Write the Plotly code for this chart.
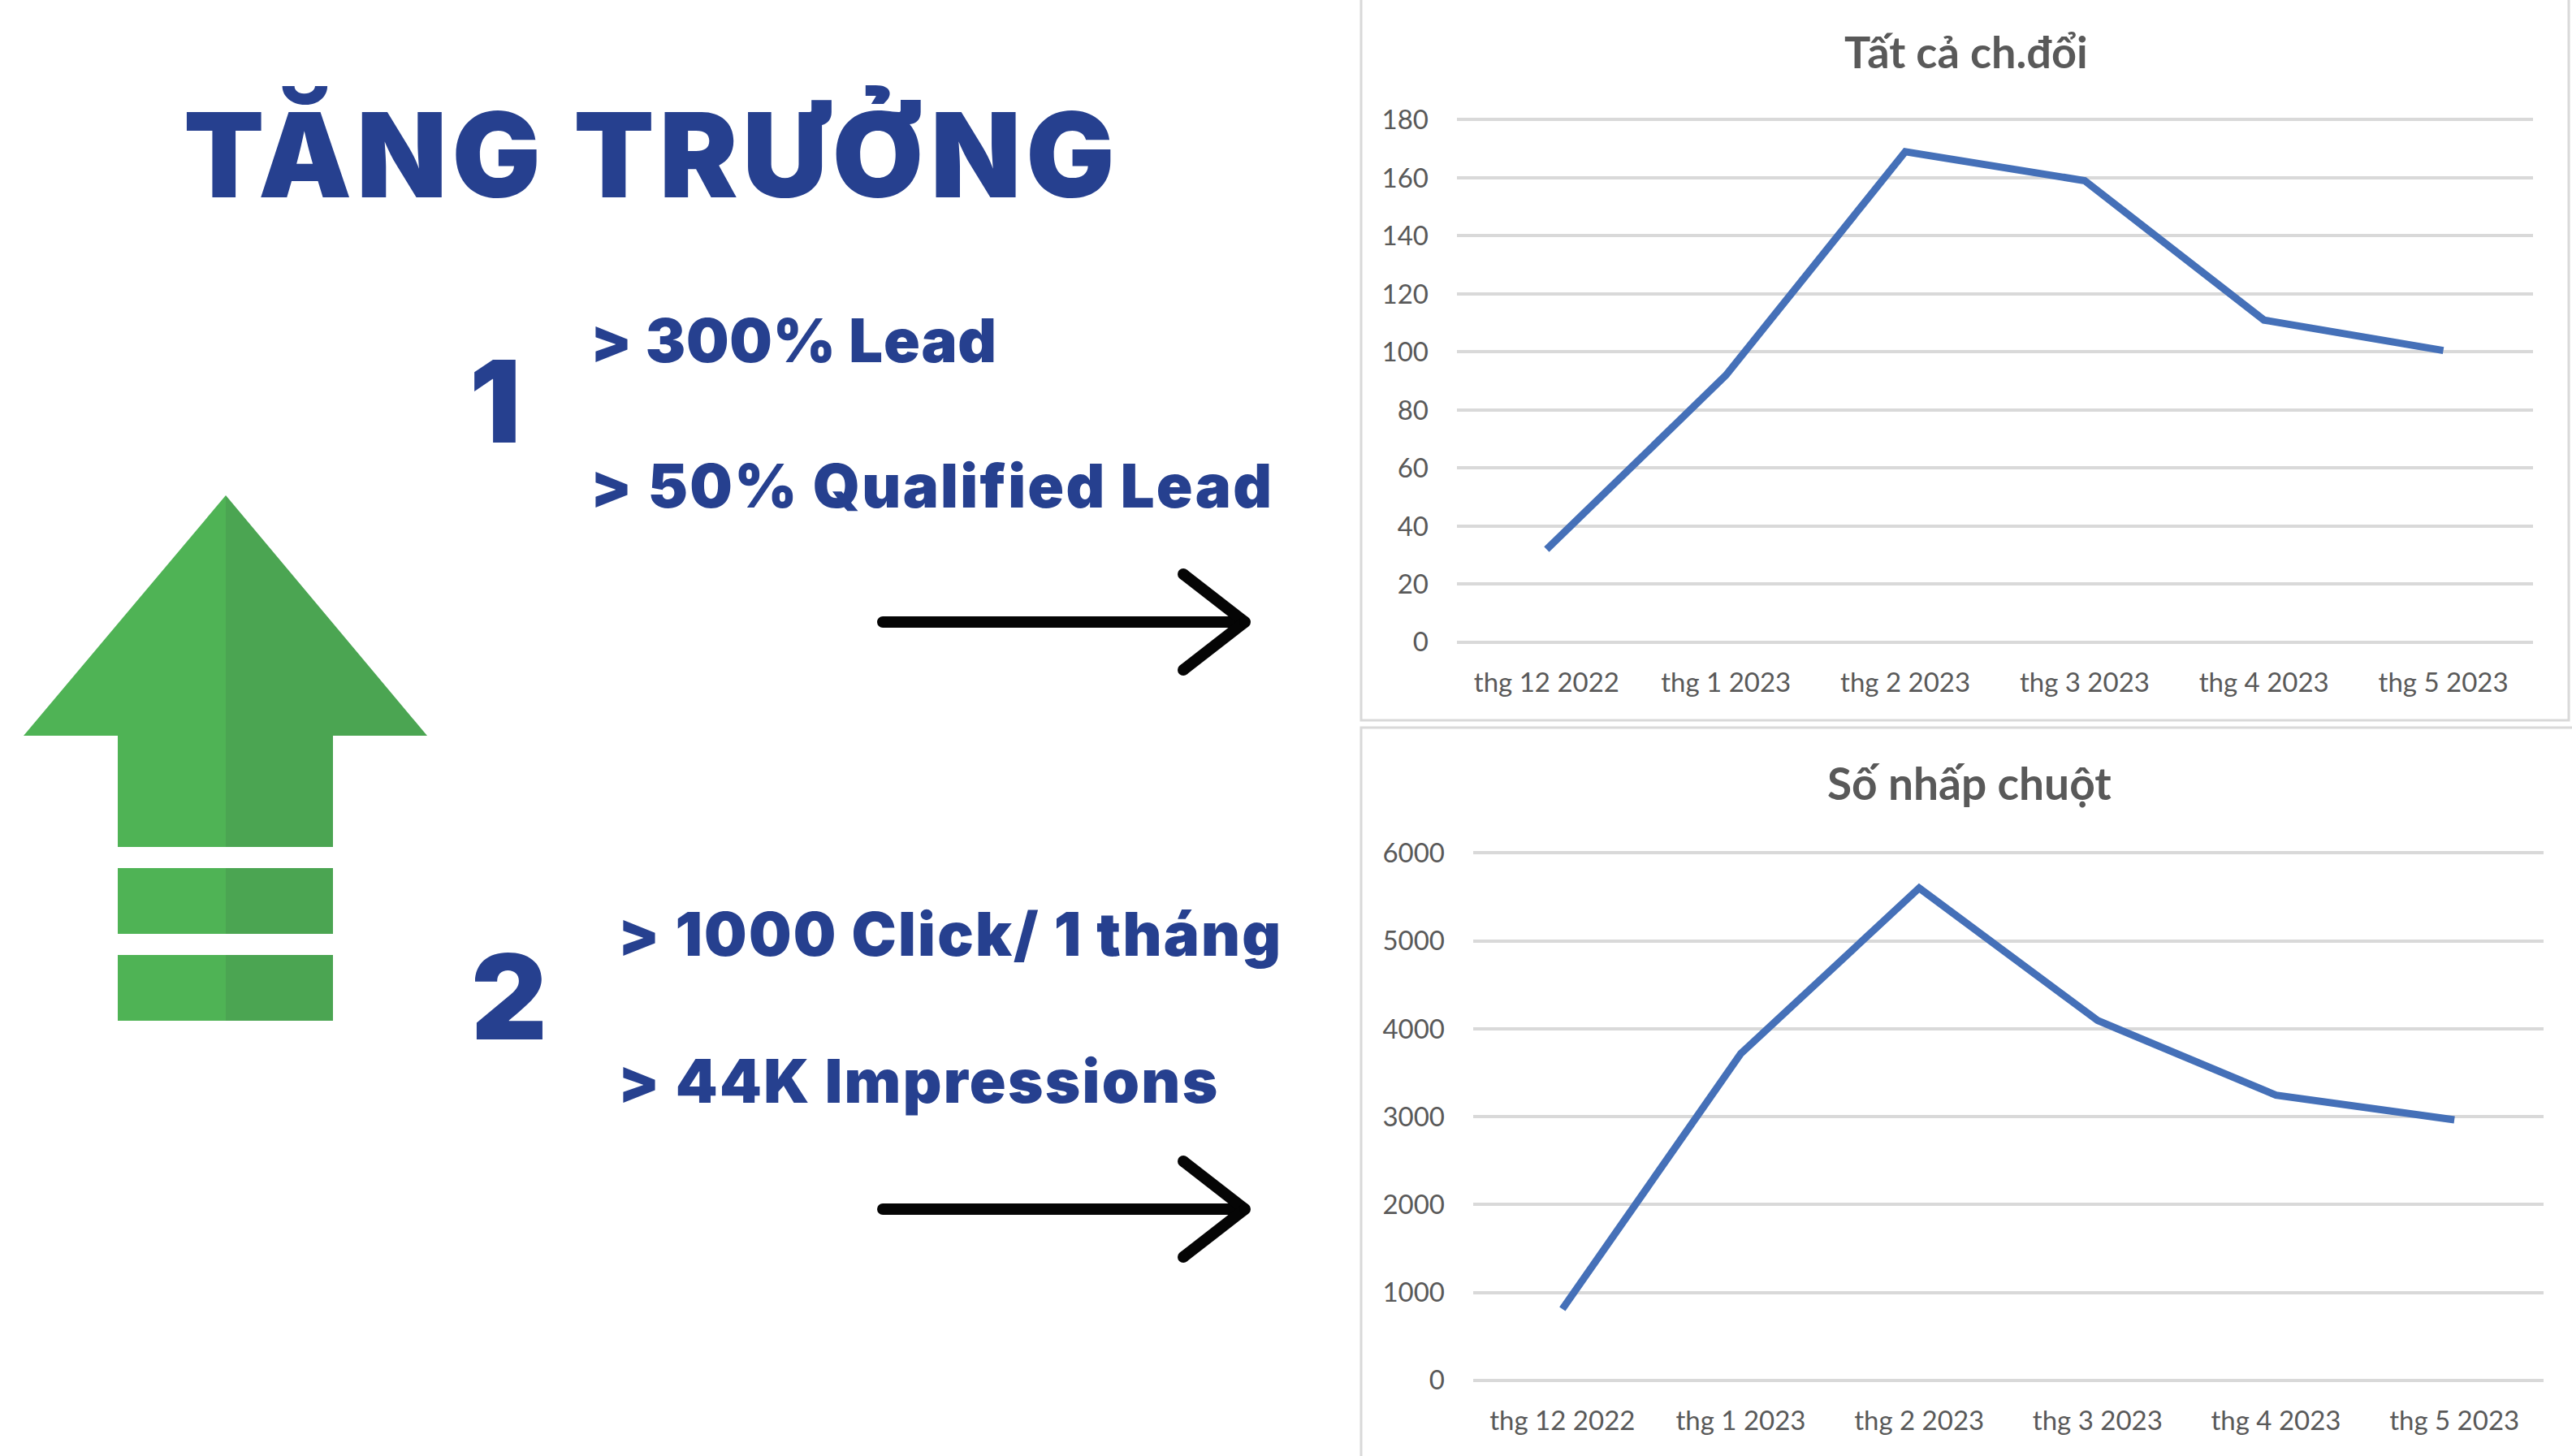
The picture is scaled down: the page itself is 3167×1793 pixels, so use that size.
import plotly.graph_objects as go

W = 3167
H = 1793

months = ["thg 12 2022", "thg 1 2023", "thg 2 2023", "thg 3 2023", "thg 4 2023", "thg 5 2023"]
conversions = [32, 92, 169, 159, 111, 100.5]
clicks = [812, 3718, 5602, 4095, 3245, 2965]
conversion_ticks = [0, 20, 40, 60, 80, 100, 120, 140, 160, 180]
click_ticks = [0, 1000, 2000, 3000, 4000, 5000, 6000]

BLUE = "#26408F"
GRID = "#D9D9D9"
GREY = "#595959"
LINE = "#4570B8"
GREEN_L = "#4FB355"
GREEN_R = "#4BA552"
HEAD_FONT = "Inter"
CHART_FONT = "Lato"


def px(x):
    return x / W


def py(y):
    return 1 - y / H


fig = go.Figure()
fig.add_trace(go.Scatter(x=months, y=conversions, mode="lines", xaxis="x", yaxis="y",
                         line=dict(color=LINE, width=9), showlegend=False))
fig.add_trace(go.Scatter(x=months, y=clicks, mode="lines", xaxis="x2", yaxis="y2",
                         line=dict(color=LINE, width=9), showlegend=False))

tick_font = dict(family=CHART_FONT, size=33, color=GREY)
x_common = dict(type="category", range=[-0.5, 5.5], showgrid=False, showline=False, zeroline=False,
                ticks="", tickfont=tick_font, ticklabelstandoff=26, automargin=False)
y_common = dict(showgrid=True, gridcolor=GRID, gridwidth=3.5, showline=False, zeroline=False,
                ticks="", tickfont=tick_font, ticklabelstandoff=34, automargin=False)

# ranges a hair wider than the ticks, plotly drops gridlines sitting right on the axis ends
fig.update_layout(
    width=W, height=H, margin=dict(l=0, r=0, t=0, b=0),
    paper_bgcolor="white", plot_bgcolor="white", showlegend=False,
    xaxis=dict(domain=[px(1794), px(3119)], anchor="y", **x_common),
    yaxis=dict(domain=[py(792), py(146.4)], anchor="x", range=[-0.3, 180.3], tickvals=conversion_ticks, **y_common),
    xaxis2=dict(domain=[px(1814), px(3132)], anchor="y2", **x_common),
    yaxis2=dict(domain=[py(1701), py(1049.4)], anchor="x2", range=[-10, 6010], tickvals=click_ticks, **y_common),
)


def paper_shape(**kw):
    fig.add_shape(xref="paper", yref="paper", **kw)


def poly(points, color):
    d = "M " + " L ".join(f"{px(x)},{py(y)}" for x, y in points) + " Z"
    paper_shape(type="path", path=d, fillcolor=color, line=dict(width=0), layer="below")


# chart frames
paper_shape(type="rect", x0=px(1676), x1=px(3163), y0=py(887), y1=py(-5), line=dict(color=GRID, width=3), layer="below")
paper_shape(type="rect", x0=px(1676), x1=px(3172), y0=py(1800), y1=py(896), line=dict(color=GRID, width=3), layer="below")

# green arrow, two tone
poly([(278, 610), (29, 906), (145, 906), (145, 1043), (278, 1043)], GREEN_L)
poly([(278, 610), (526, 906), (410, 906), (410, 1043), (278, 1043)], GREEN_R)
for top, bottom in [(1069, 1150), (1176, 1257)]:
    poly([(145, top), (278, top), (278, bottom), (145, bottom)], GREEN_L)
    poly([(278, top), (410, top), (410, bottom), (278, bottom)], GREEN_R)


# black arrows
def black_arrow(yc):
    for x0, y0, x1, y1 in [(1087, yc, 1533, yc), (1457, yc - 59, 1533, yc), (1457, yc + 59, 1533, yc)]:
        paper_shape(type="line", x0=px(x0), y0=py(y0), x1=px(x1), y1=py(y1), line=dict(color="#050505", width=14))
    for x, y in [(1087, yc), (1457, yc - 59), (1457, yc + 59), (1533, yc)]:
        paper_shape(type="circle", x0=px(x - 7), x1=px(x + 7), y0=py(y + 7), y1=py(y - 7),
                    fillcolor="#050505", line=dict(width=0))


black_arrow(766)
black_arrow(1489)


def label(text, x, y, size, color=BLUE, family=HEAD_FONT, weight=900, anchor="left", spacing=0):
    # y is the vertical middle of the text box
    if spacing:
        text = f'<span style="letter-spacing:{spacing}px">{text}</span>'
    fig.add_annotation(xref="paper", yref="paper", x=px(x), y=py(y), text=text, showarrow=False,
                       xanchor=anchor, yanchor="middle", align=anchor,
                       font=dict(family=family, size=size, color=color, weight=weight))


label("TĂNG TRƯỞNG", 224, 190, 145, spacing=5.8)
label("1", 576, 494, 140)
label("2", 578, 1227, 145)
label("&gt; 300% Lead", 725, 419, 74, spacing=0.8)
label("&gt; 50% Qualified Lead", 725, 598, 74, spacing=2.3)
label("&gt; 1000 Click/ 1 tháng", 759, 1150, 74, spacing=2.2)
label("&gt; 44K Impressions", 759, 1331, 74, spacing=2.3)
label("Tất cả ch.đổi", 2421, 63, 54, color=GREY, family=CHART_FONT, weight=700, anchor="center")
label("Số nhấp chuột", 2425, 964, 55, color=GREY, family=CHART_FONT, weight=700, anchor="center")

fig.write_html("out.html", config={"displayModeBar": False}, post_script="document.body.style.margin='0';")
